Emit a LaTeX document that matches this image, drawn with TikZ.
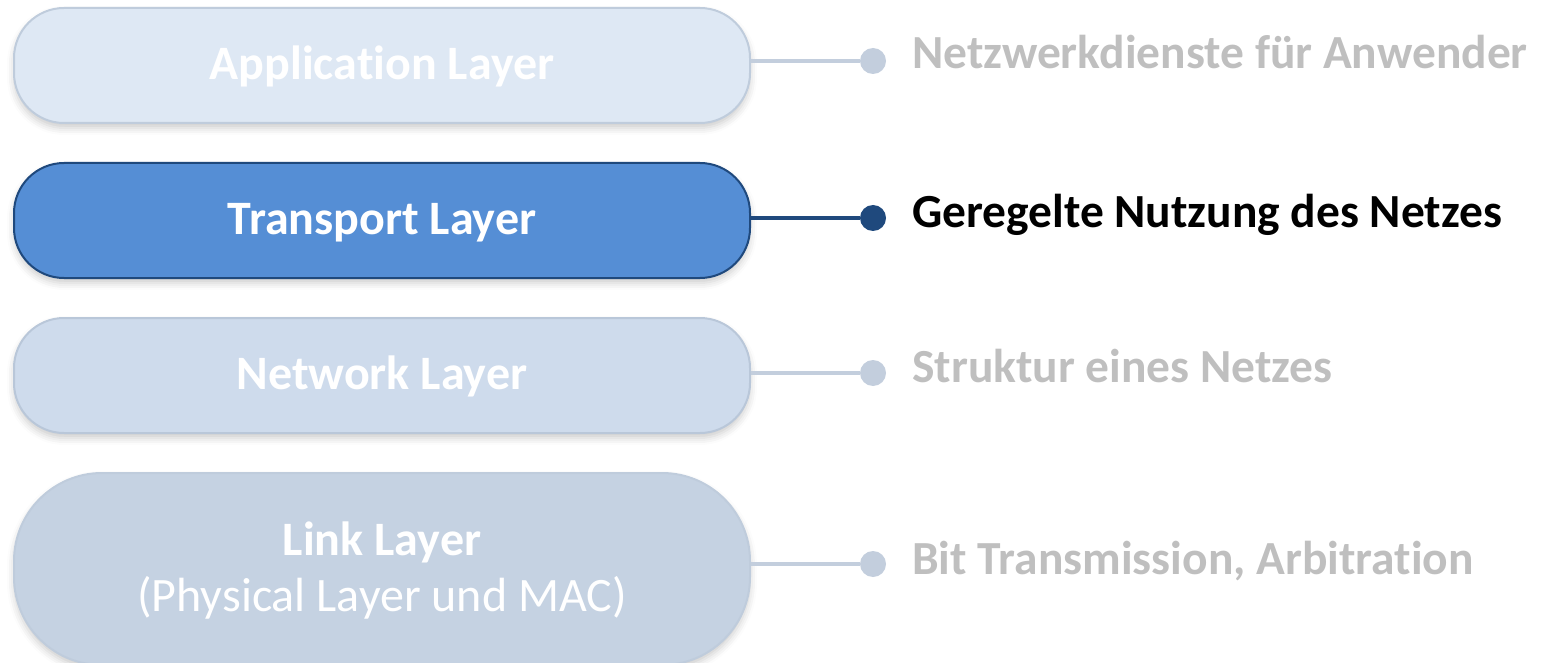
\documentclass[tikz,border=0pt]{standalone}
\usepackage{fontspec}
\setmainfont{Carlito}[Ligatures=NoCommon]
\usetikzlibrary{shadows.blur}

% palette
\definecolor{appfill}{HTML}{DEE8F4}
\definecolor{appdraw}{HTML}{BFCCDC}
\definecolor{trfill}{HTML}{558ED5}
\definecolor{trdraw}{HTML}{1F497D}
\definecolor{netfill}{HTML}{CEDBEC}
\definecolor{netdraw}{HTML}{B9C7D9}
\definecolor{linkfill}{HTML}{C5D2E2}
\definecolor{linkdraw}{HTML}{BFCCDC}
\definecolor{mutedline}{HTML}{C3CEDD}
\definecolor{mutedtext}{HTML}{BFBFBF}

\begin{document}
\begin{tikzpicture}[x=1pt, y=-1pt,
  layerbox/.style={rounded corners=50pt, minimum width=736pt, minimum height=115pt,
    inner sep=0pt, line width=2pt, text=white,
    font=\fontsize{48pt}{56pt}\selectfont\bfseries,
    text height=28pt, text depth=0pt,
    blur shadow={shadow xshift=0pt, shadow yshift=-5pt, shadow blur radius=7pt, shadow opacity=20}},
  dotnode/.style={circle, inner sep=0pt, minimum size=26pt},
  wire/.style={line width=4.5pt},
  desc/.style={anchor=base west, inner sep=0pt,
    font=\fontsize{47.5pt}{56pt}\selectfont\bfseries}]

\useasboundingbox (0,0) rectangle (1545,663);
\clip (0,0) rectangle (1545,663);

% protocol layers
\node[layerbox, fill=appfill, draw=appdraw] (app) at (382,65.5) {Application Layer};
\node[layerbox, fill=trfill, draw=trdraw] (tr) at (382,220.5) {Transport Layer};
\node[layerbox, fill=netfill, draw=netdraw] (net) at (382,375.5) {Network Layer};
\node[layerbox, fill=linkfill, draw=linkdraw, rounded corners=88pt,
      minimum height=192pt, align=center, text height=84pt] (link) at (382,569)
  {Link Layer\\{\mdseries (Physical Layer und MAC)}};

% end points of the leader lines
\node[dotnode, fill=mutedline] (appdot) at (873,61) {};
\node[dotnode, fill=trdraw] (trdot) at (873,218) {};
\node[dotnode, fill=mutedline] (netdot) at (873,373) {};
\node[dotnode, fill=mutedline] (linkdot) at (873,564) {};

% leader lines
\draw[wire, mutedline] (app.east |- appdot) -- (appdot.west);
\draw[wire, trdraw] (tr.east |- trdot) -- (trdot.west);
\draw[wire, mutedline] (net.east |- netdot) -- (netdot.west);
\draw[wire, mutedline] (link.east |- linkdot) -- (linkdot.west);

% descriptions
\node[desc, text=mutedtext] (appdesc) at (912,69) {Netzwerkdienste für Anwender};
\node[desc, text=black] (trdesc) at (912,228) {Geregelte Nutzung des Netzes};
\node[desc, text=mutedtext] (netdesc) at (912,382) {Struktur eines Netzes};
\node[desc, text=mutedtext] (linkdesc) at (912,574) {Bit Transmission, Arbitration};
\end{tikzpicture}
\end{document}
